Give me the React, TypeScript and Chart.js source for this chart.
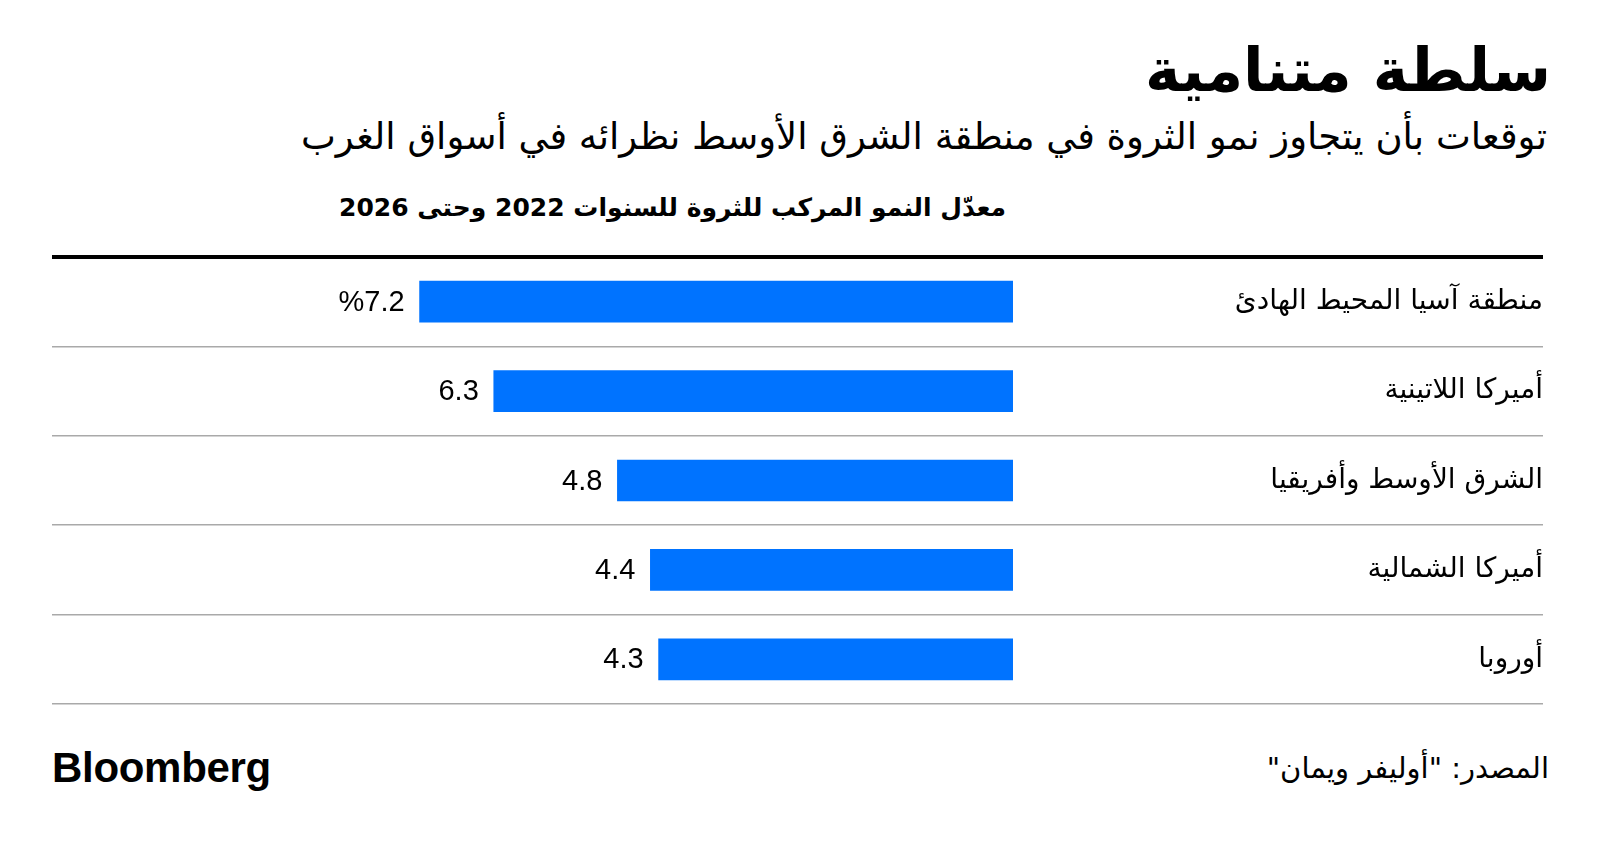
import React, { useEffect, useRef } from 'react';
import { Chart, registerables } from 'chart.js';

Chart.register(...registerables);

// ---- data ----
const categories: string[] = [
  'منطقة آسيا المحيط الهادئ',
  'أميركا اللاتينية',
  'الشرق الأوسط وأفريقيا',
  'أميركا الشمالية',
  'أوروبا',
];
const values: number[] = [7.2, 6.3, 4.8, 4.4, 4.3];
const valueLabels: string[] = values.map((v, i) => (i === 0 ? `%${v.toFixed(1)}` : v.toFixed(1)));

const titleText = 'سلطة متنامية';
const subtitleText = 'توقعات بأن يتجاوز نمو الثروة في منطقة الشرق الأوسط نظرائه في أسواق الغرب';
const axisTitleText = 'معدّل النمو المركب للثروة للسنوات 2022 وحتى 2026';
const sourceText = 'المصدر: "أوليفر ويمان"';
const brandText = 'Bloomberg';

const X_MAX = 11.66;
const AR_FONT = '"DejaVu Sans", "Noto Sans", sans-serif';
const LAT_FONT = '"Liberation Sans", Arial, sans-serif';

const textBox = (
  centerY: number,
  size: number,
  extra: React.CSSProperties
): React.CSSProperties => ({
  position: 'absolute',
  top: centerY - size * 0.6,
  height: size * 1.2,
  lineHeight: `${size * 1.2}px`,
  fontSize: size,
  whiteSpace: 'nowrap',
  color: '#000',
  margin: 0,
  ...extra,
});

export default function App() {
  const canvasRef = useRef<HTMLCanvasElement | null>(null);

  useEffect(() => {
    const valuePlugin = {
      id: 'valueLabels',
      afterDatasetsDraw(chart: any) {
        const ctx = chart.ctx as CanvasRenderingContext2D;
        const meta = chart.getDatasetMeta(0);
        ctx.save();
        ctx.font = `29px ${LAT_FONT}`;
        ctx.fillStyle = '#000';
        ctx.textAlign = 'right';
        ctx.textBaseline = 'middle';
        meta.data.forEach((el: any, i: number) => {
          ctx.fillText(valueLabels[i], el.x - 15, el.y + 1);
        });
        ctx.restore();
      },
    };

    const chart = new Chart(canvasRef.current as HTMLCanvasElement, {
      type: 'bar',
      data: {
        labels: categories,
        datasets: [
          {
            data: values,
            backgroundColor: '#0073ff',
            barThickness: 41,
          },
        ],
      },
      options: {
        indexAxis: 'y',
        animation: false,
        responsive: false,
        maintainAspectRatio: false,
        layout: { padding: { left: 52, right: 57, top: 17, bottom: 6 } },
        plugins: {
          legend: { display: false },
          tooltip: { enabled: false },
        },
        scales: {
          x: {
            display: false,
            reverse: true,
            min: 0,
            max: X_MAX,
          },
          y: {
            position: 'right',
            grid: {
              offset: true,
              drawTicks: true,
              tickLength: 530,
              color: (c: any) => (c.index === 0 ? '#000000' : '#a9a9a9'),
              lineWidth: (c: any) => (c.index === 0 ? 4 : 1.5),
            },
            border: { display: false },
            ticks: {
              crossAlign: 'far',
              padding: 0,
              color: '#000',
              font: { family: AR_FONT, size: 28 },
            },
            afterFit(scale: any) {
              scale.width = 530;
              scale.paddingTop = 0;
              scale.paddingBottom = 0;
            },
          },
        },
      },
      plugins: [valuePlugin],
    });

    return () => chart.destroy();
  }, []);

  return (
    <div
      style={{
        position: 'absolute',
        left: 0,
        top: 0,
        width: 1600,
        height: 848,
        background: '#fff',
        overflow: 'hidden',
      }}
    >
      <div
        dir="rtl"
        style={textBox(70, 60, { right: 49, fontFamily: AR_FONT, fontWeight: 'bold' })}
      >
        {titleText}
      </div>
      <div dir="rtl" style={textBox(137, 37, { right: 53, fontFamily: AR_FONT })}>
        {subtitleText}
      </div>
      <div
        dir="rtl"
        style={textBox(208, 25, { right: 594, fontFamily: AR_FONT, fontWeight: 'bold' })}
      >
        {axisTitleText}
      </div>
      <canvas
        ref={canvasRef}
        width={1600}
        height={470}
        style={{ position: 'absolute', left: 0, top: 240, width: 1600, height: 470 }}
      />
      <div
        style={textBox(768, 42, {
          left: 52,
          fontFamily: LAT_FONT,
          fontWeight: 'bold',
          letterSpacing: '-0.3px',
        })}
      >
        {brandText}
      </div>
      <div dir="rtl" style={textBox(768, 29, { right: 51, fontFamily: AR_FONT })}>
        {sourceText}
      </div>
    </div>
  );
}
